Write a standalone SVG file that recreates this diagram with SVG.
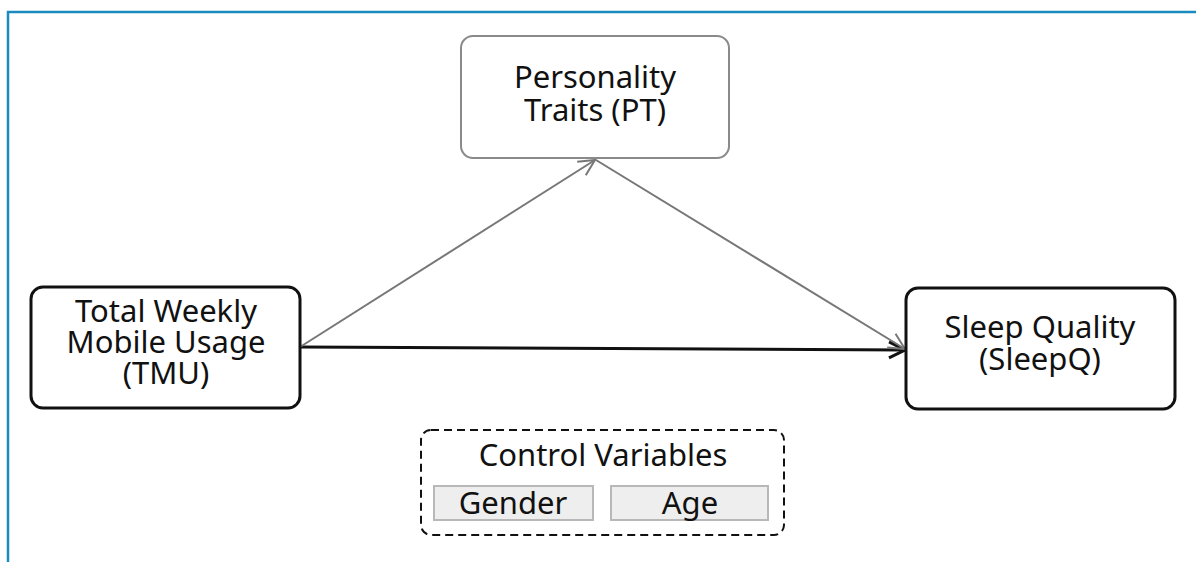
<svg xmlns="http://www.w3.org/2000/svg" width="1196" height="562" viewBox="0 0 1196 562">
<style>
.t{font-family:"Noto Sans","Open Sans","DejaVu Sans",sans-serif;font-size:31px;fill:#111;text-anchor:middle}
.node{fill:#fff;stroke:#111;stroke-width:3}
.pt{fill:#fff;stroke:#8a8a8a;stroke-width:2}
.var{fill:#eeeeee;stroke:#b8b8b8;stroke-width:2}
</style>
<defs>
<marker id="ab" viewBox="0 0 20 20" refX="18" refY="10" markerWidth="20" markerHeight="20" markerUnits="userSpaceOnUse" orient="auto">
<path d="M2,2 L18,10 L2,18" fill="none" stroke="#111" stroke-width="3"/>
</marker>
<marker id="ag" viewBox="0 0 20 20" refX="18" refY="10" markerWidth="20" markerHeight="20" markerUnits="userSpaceOnUse" orient="auto">
<path d="M2,2 L18,10 L2,18" fill="none" stroke="#777" stroke-width="2"/>
</marker>
</defs>
<rect width="1196" height="562" fill="#fff"/>
<path d="M8,562 L8,12 L1196,12" fill="none" stroke="#1a8abf" stroke-width="2.5"/>
<g id="connectors">
<line x1="300" y1="347" x2="905" y2="350" stroke="#111" stroke-width="3" marker-end="url(#ab)"/>
<line x1="300" y1="347" x2="595" y2="160" stroke="#777" stroke-width="2" marker-end="url(#ag)"/>
<line x1="596" y1="160" x2="905" y2="349" stroke="#777" stroke-width="2" marker-end="url(#ag)"/>
</g>
<g id="pt">
<rect class="pt" x="461" y="36" width="268" height="122" rx="12"/>
<text class="t" x="595" y="88">Personality</text>
<text class="t" x="595" y="121">Traits (PT)</text>
</g>
<g id="tmu">
<rect class="node" x="31" y="287" width="269" height="121" rx="12"/>
<text class="t" x="166" y="322">Total Weekly</text>
<text class="t" x="166" y="353">Mobile Usage</text>
<text class="t" x="166" y="384">(TMU)</text>
</g>
<g id="sleepq">
<rect class="node" x="906" y="288" width="269" height="121" rx="12"/>
<text class="t" x="1040" y="338">Sleep Quality</text>
<text class="t" x="1040" y="370">(SleepQ)</text>
</g>
<g id="controls">
<rect x="421" y="430" width="363" height="105" rx="10" fill="none" stroke="#111" stroke-width="2" stroke-dasharray="8,5"/>
<text class="t" x="603" y="466">Control Variables</text>
</g>
<g id="gender">
<rect class="var" x="434" y="486" width="159" height="34"/>
<text class="t" x="513" y="514">Gender</text>
</g>
<g id="age">
<rect class="var" x="611" y="486" width="157" height="34"/>
<text class="t" x="690" y="514">Age</text>
</g>
</svg>
